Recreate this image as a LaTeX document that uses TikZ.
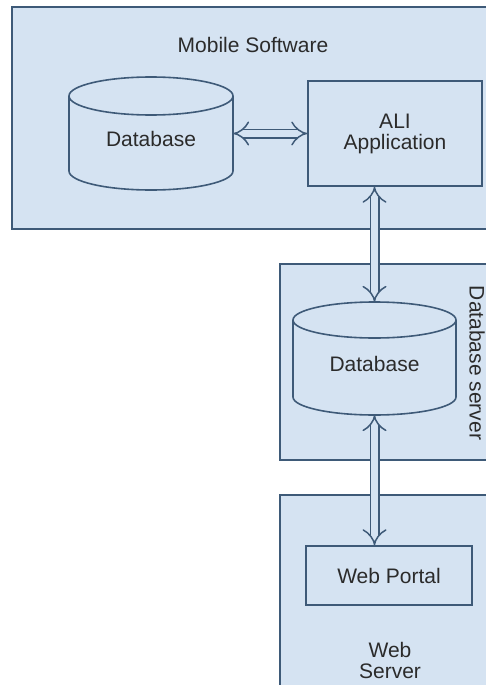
\documentclass[tikz,border=0pt]{standalone}
\usepackage{fontspec}
\setmainfont{Liberation Sans}
\usetikzlibrary{arrows.meta}
\definecolor{boxfill}{HTML}{D5E3F2}
\definecolor{boxline}{HTML}{3E5A78}
\definecolor{txt}{HTML}{2B2B2B}

\begin{document}
\begin{tikzpicture}[x=1pt,y=1pt,
  every node/.style={font=\fontsize{21}{21}\selectfont,text=txt},
  frame/.style={draw=boxline,line width=1.8pt,fill=boxfill},
  block/.style={draw=boxline,line width=1.6pt,fill=boxfill,align=center,inner sep=0pt},
  dbbody/.style={minimum width=#1,minimum height=113pt,text height=26pt,inner sep=0pt},
  link/.style={draw=boxline,line width=1.5pt,double=boxfill,double distance=7pt,{Implies}-{Implies}}]
\useasboundingbox (0,0) rectangle (486,-685);
\clip (0,0) rectangle (486,-685);
\fill[white] (0,0) rectangle (486,-685);

% outer boxes
\draw[frame] (12,-7) rectangle (500,-229);
\draw[frame] (280,-264) rectangle (500,-460);
\draw[frame] (280,-495) rectangle (500,-700);

\node (mobile) at (253,-45) {Mobile Software};
\node (dbserver) at (477,-363) [rotate=-90] {Database server};
\node (webserver) at (390,-660) [align=center] {Web\\Server};

% cylinders
\draw[block] (69,-96) -- (69,-171) arc[start angle=180,end angle=360,x radius=82pt,y radius=19pt] -- (233,-96) arc[start angle=0,end angle=180,x radius=82pt,y radius=19pt] -- cycle;
\draw[block,fill=none] (69,-96) arc[start angle=180,end angle=360,x radius=82pt,y radius=19pt];
\draw[block] (293,-320) -- (293,-397) arc[start angle=180,end angle=360,x radius=81.5pt,y radius=18pt] -- (456,-320) arc[start angle=0,end angle=180,x radius=81.5pt,y radius=18pt] -- cycle;
\draw[block,fill=none] (293,-320) arc[start angle=180,end angle=360,x radius=81.5pt,y radius=18pt];

\node (db1) at (151,-133.5) [dbbody=164pt] {Database};
\node (db2) at (374.5,-358.5) [dbbody=163pt] {Database};
\node (app) at (395,-133.5) [block,minimum width=174pt,minimum height=105pt] {ALI\\Application};
\node (portal) at (389,-575.5) [block,minimum width=166pt,minimum height=59pt] {Web Portal};

% links
\draw[link] (db1.east) -- (app.west);
\draw[link] (app.south -| db2.north) -- (db2.north);
\draw[link] (db2.south) -- (portal.north -| db2.south);
\end{tikzpicture}
\end{document}
